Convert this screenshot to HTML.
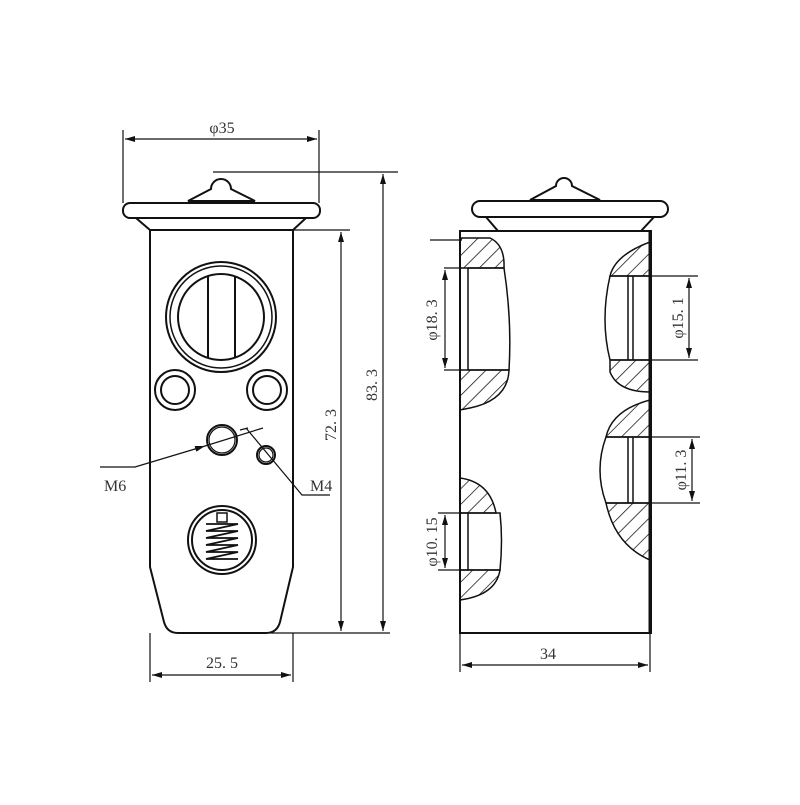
<!DOCTYPE html><html><head><style>body{margin:0;background:#fff}text{font-family:"Liberation Serif",serif;fill:#333}</style></head><body>
<svg width="800" height="800" viewBox="0 0 800 800" xmlns="http://www.w3.org/2000/svg">
<defs>
<marker id="a" viewBox="0 0 10 6" refX="10" refY="3" markerWidth="10" markerHeight="6" orient="auto-start-reverse" markerUnits="userSpaceOnUse"><path d="M0,0L10,3L0,6z" fill="#111"/></marker>
<pattern id="h" width="11" height="11" patternUnits="userSpaceOnUse" patternTransform="rotate(45)"><line x1="0" y1="0" x2="0" y2="11" stroke="#111" stroke-width="1.5"/></pattern>
</defs>
<g fill="none" stroke="#111" stroke-width="2">
<path d="M211,189 A10,10 0 0 1 231,189 L255,201 L188,201 Z" fill="#fff"/>
<rect x="123" y="203" width="197" height="15" rx="7" fill="#fff"/>
<path d="M136,218 L306,218 L293,230 L150,230 Z"/>
<path d="M150,230 L293,230 L293,567 L280,622 Q277,633 266,633 L178,633 Q167,633 164,622 L150,567 Z"/>
<circle cx="221" cy="317" r="55"/><circle cx="221" cy="317" r="51" stroke-width="1.5"/><circle cx="221" cy="317" r="43"/>
<line x1="208" y1="276" x2="208" y2="358"/><line x1="235" y1="276" x2="235" y2="358"/>
<circle cx="175" cy="390" r="20"/><circle cx="175" cy="390" r="14"/>
<circle cx="267" cy="390" r="20"/><circle cx="267" cy="390" r="14"/>
<circle cx="222" cy="440" r="15"/><circle cx="222" cy="440" r="13" stroke-width="1.2"/>
<circle cx="266" cy="455" r="9"/><circle cx="266" cy="455" r="7" stroke-width="1.2"/>
<circle cx="222" cy="540" r="34"/><circle cx="222" cy="540" r="30"/>
<rect x="217" y="513" width="10" height="9" stroke-width="1.5"/>
<path d="M206,524 L238,524 L206,531 L238,531 L206,538 L238,538 L206,545 L238,545 L206,552 L238,552 L206,559 L238,559" stroke-width="1.8"/>
<g stroke-width="1.2">
<line x1="123" y1="130" x2="123" y2="203"/><line x1="319" y1="130" x2="319" y2="203"/>
<line x1="125" y1="139" x2="317" y2="139" marker-start="url(#a)" marker-end="url(#a)"/>
<line x1="213" y1="172" x2="398" y2="172"/>
<line x1="293" y1="230" x2="350" y2="230"/>
<line x1="270" y1="633" x2="390" y2="633"/>
<line x1="341" y1="232" x2="341" y2="631" marker-start="url(#a)" marker-end="url(#a)"/>
<line x1="383" y1="174" x2="383" y2="631" marker-start="url(#a)" marker-end="url(#a)"/>
<line x1="150" y1="633" x2="150" y2="682"/><line x1="293" y1="633" x2="293" y2="682"/>
<line x1="152" y1="675" x2="291" y2="675" marker-start="url(#a)" marker-end="url(#a)"/>
<polyline points="100,467 135,467 205,446" marker-end="url(#a)"/><line x1="205" y1="446" x2="263" y2="428"/>
<polyline points="330,495 302,495 246,428"/>
<line x1="240" y1="430" x2="248" y2="428"/>
</g>
<path d="M556,186 A8,8 0 0 1 572,186 L600,200 L530,200 Z" fill="#fff"/>
<rect x="472" y="201" width="196" height="16" rx="8" fill="#fff"/>
<path d="M486,217 L654,217 L641,231 L498,231 Z"/>
<rect x="460" y="231" width="191" height="402"/>
<path d="M460,238 L490,238 Q505,245 504,268 L460,268 Z" fill="url(#h)" stroke-width="1.5"/>
<path d="M460,370 L509,370 Q508,400 470,408 L460,410 Z" fill="url(#h)" stroke-width="1.5"/>
<path d="M468,268 L468,370 M468,268 L504,268 Q512,320 509,370 L468,370" stroke-width="1.5"/>
<path d="M460,478 Q490,482 496,513 L460,513 Z" fill="url(#h)" stroke-width="1.5"/>
<path d="M460,570 L500,570 Q496,595 460,600 Z" fill="url(#h)" stroke-width="1.5"/>
<path d="M468,513 L468,570 M460,513 L500,513 Q503,540 500,570 L460,570" stroke-width="1.5"/>
<path d="M650,242 Q615,255 610,276 L650,276 Z" fill="url(#h)" stroke-width="1.5"/>
<path d="M610,360 L650,360 L650,392 Q618,392 610,372 Z" fill="url(#h)" stroke-width="1.5"/>
<path d="M610,276 Q600,320 610,360 M610,276 L650,276 M610,360 L650,360 M628,276 L628,360 M633,276 L633,360" stroke-width="1.5"/>
<path d="M650,400 Q612,410 606,437 L650,437 Z" fill="url(#h)" stroke-width="1.5"/>
<path d="M606,503 L650,503 L650,560 Q615,545 606,503 Z" fill="url(#h)" stroke-width="1.5"/>
<path d="M606,437 Q594,470 606,503 M606,437 L650,437 M606,503 L650,503 M628,437 L628,503 M633,437 L633,503" stroke-width="1.5"/>
<line x1="650" y1="231" x2="650" y2="633" stroke-width="3"/>
<g stroke-width="1.2">
<line x1="430" y1="240" x2="462" y2="240"/>
<line x1="444" y1="268" x2="462" y2="268"/><line x1="444" y1="370" x2="462" y2="370"/>
<line x1="445" y1="270" x2="445" y2="368" marker-start="url(#a)" marker-end="url(#a)"/>
<line x1="438" y1="513" x2="462" y2="513"/><line x1="438" y1="570" x2="462" y2="570"/>
<line x1="445" y1="515" x2="445" y2="568" marker-start="url(#a)" marker-end="url(#a)"/>
<line x1="650" y1="276" x2="698" y2="276"/><line x1="650" y1="360" x2="698" y2="360"/>
<line x1="689" y1="278" x2="689" y2="358" marker-start="url(#a)" marker-end="url(#a)"/>
<line x1="650" y1="437" x2="700" y2="437"/><line x1="650" y1="503" x2="700" y2="503"/>
<line x1="692" y1="439" x2="692" y2="501" marker-start="url(#a)" marker-end="url(#a)"/>
<line x1="460" y1="633" x2="460" y2="672"/><line x1="650" y1="633" x2="650" y2="672"/>
<line x1="462" y1="665" x2="648" y2="665" marker-start="url(#a)" marker-end="url(#a)"/>
</g>
</g>
<g font-size="16">
<text x="222" y="133" text-anchor="middle">φ35</text>
<text x="222" y="668" text-anchor="middle">25. 5</text>
<text x="548" y="659" text-anchor="middle">34</text>
<text x="104" y="491">M6</text>
<text x="310" y="491">M4</text>
<text transform="translate(336,425) rotate(-90)" text-anchor="middle">72. 3</text>
<text transform="translate(377,385) rotate(-90)" text-anchor="middle">83. 3</text>
<text transform="translate(437,320) rotate(-90)" text-anchor="middle">φ18. 3</text>
<text transform="translate(437,542) rotate(-90)" text-anchor="middle">φ10. 15</text>
<text transform="translate(683,318) rotate(-90)" text-anchor="middle">φ15. 1</text>
<text transform="translate(686,470) rotate(-90)" text-anchor="middle">φ11. 3</text>
</g>
</svg>
</body></html>
